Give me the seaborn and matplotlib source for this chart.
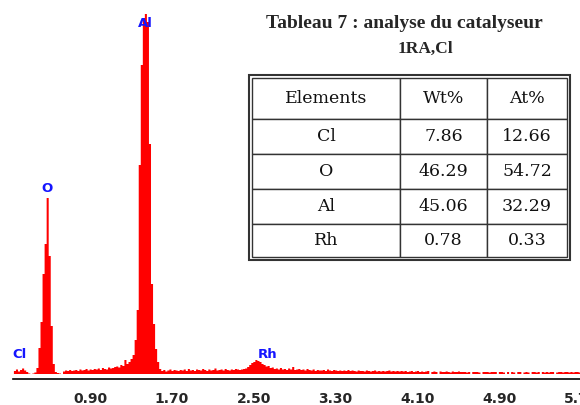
import numpy as np
import pandas as pd
import seaborn as sns
import matplotlib
matplotlib.use("Agg")
import matplotlib.pyplot as plt
from matplotlib.patches import Rectangle
from matplotlib import transforms

sns.set_style("white")
plt.rcParams["font.family"] = ["DejaVu Sans"]

# EDS spectrum: counts per 0.02 keV channel, first channel starting at 0.22 keV
channel_start = 0.22
channel_width = 0.02
counts = [
    30, 45, 25, 40, 55, 35, 20, 5, 0, 5,
    15, 60, 260, 520, 1000, 1300, 1760, 1180, 480, 100,
    20, 10, 5, 0, 25, 35, 30, 40, 30, 35,
    40, 30, 45, 35, 40, 50, 35, 45, 40, 50,
    45, 55, 40, 60, 50, 45, 65, 55, 60, 70,
    75, 65, 90, 80, 140, 100, 120, 150, 190, 340,
    640, 2090, 3090, 3560, 3600, 3520, 2300, 900, 500, 250,
    120, 50, 30, 40, 25, 35, 45, 30, 40, 35,
    30, 40, 35, 45, 30, 50, 35, 40, 30, 45,
    40, 35, 50, 40, 30, 45, 35, 40, 55, 35,
    40, 45, 35, 50, 40, 35, 45, 40, 50, 45,
    40, 45, 50, 55, 70, 90, 110, 120, 140, 130,
    120, 100, 90, 75, 80, 60, 65, 50, 55, 45,
    60, 45, 50, 40, 55, 45, 70, 40, 45, 50,
    40, 45, 35, 50, 40, 35, 45, 30, 40, 35,
    35, 40, 30, 45, 35, 30, 40, 35, 30, 35,
    30, 35, 30, 40, 30, 35, 30, 25, 35, 30,
    30, 25, 35, 30, 25, 30, 35, 25, 30, 25,
    30, 25, 30, 35, 25, 30, 25, 30, 25, 30,
    25, 30, 20, 25, 30, 20, 25, 30, 20, 25,
    20, 25, 30, 0, 20, 25, 20, 0, 25, 20,
    20, 25, 20, 15, 25, 20, 20, 25, 20, 20,
    20, 15, 20, 0, 20, 20, 20, 15, 0, 20,
    20, 20, 15, 20, 20, 20, 0, 20, 20, 15,
    0, 20, 0, 20, 15, 0, 20, 20, 0, 15,
    20, 15, 0, 20, 20, 15, 20, 0, 20, 15,
    20, 15, 20, 20, 0, 15, 20, 20, 15, 20,
    20, 15, 20, 15, 20, 20, 15,
]

# Peak labels (element, energy keV, label height in counts)
peak_names = ["Cl", "O", "Al", "Rh"]
peak_energy = [0.279, 0.55, 1.51, 2.70]
peak_label_y = [195, 1855, 3505, 195]

# Energy axis ticks
tick_values = [0.90, 1.70, 2.50, 3.30, 4.10, 4.90, 5.70]
tick_labels = ["0.90", "1.70", "2.50", "3.30", "4.10", "4.90", "5.70"]

# Composition table
elements = ["Cl", "O", "Al", "Rh"]
wt_pct = ["7.86", "46.29", "45.06", "0.78"]
at_pct = ["12.66", "54.72", "32.29", "0.33"]
table_header = ["Elements", "Wt%", "At%"]

n = len(counts)
centers = channel_start + channel_width * (np.arange(n) + 0.5)
spec = pd.DataFrame({"energy": centers, "counts": counts})

W, H = 580, 405
fig = plt.figure(figsize=(W / 100, H / 100), dpi=100)
ax = fig.add_axes([13 / W, (H - 379) / H, 567 / W, 379 / H])

sns.histplot(data=spec, x="energy", weights="counts",
             binwidth=channel_width,
             binrange=(channel_start, channel_start + channel_width * n),
             element="step", fill=True, color="#ff0000", alpha=1.0,
             linewidth=0, ax=ax)

ax.set_xlim(0.216, 5.758)
ax.set_ylim(-55, 3735)
ax.set_xlabel("")
ax.set_ylabel("")
ax.set_yticks([])
for side in ["top", "left", "right"]:
    ax.spines[side].set_visible(False)
ax.spines["bottom"].set_color("black")
ax.spines["bottom"].set_linewidth(1.2)

ax.set_xticks(tick_values)
ax.set_xticklabels(tick_labels, fontsize=10, fontweight="bold")
ax.tick_params(axis="x", direction="inout", length=7, width=1.2,
               color="black", pad=6)
shift = transforms.ScaledTranslation(7 / 100, 0, fig.dpi_scale_trans)
for lab in ax.get_xticklabels():
    lab.set_transform(lab.get_transform() + shift)

for name, e, y in zip(peak_names, peak_energy, peak_label_y):
    ax.text(e, y, name, color="#1515ff", fontsize=9.5, fontweight="bold",
            ha="center", va="center")

# Title above the table
fig.text(404 / W, 1 - 23 / H, "Tableau 7 : analyse du catalyseur",
         family=["Liberation Serif"], fontweight="bold", fontsize=14,
         ha="center", va="center")
fig.text(425 / W, 1 - 49 / H, "1RA,Cl",
         family=["Liberation Serif"], fontweight="bold", fontsize=12.5,
         ha="center", va="center")

# Table of composition
tx0, tx1, ty0, ty1 = 252, 567, 78, 257
tax = fig.add_axes([tx0 / W, (H - ty1) / H, (tx1 - tx0) / W, (ty1 - ty0) / H])
tax.axis("off")
cell_text = [list(r) for r in zip(elements, wt_pct, at_pct)]
col_w = [148 / 315, 87 / 315, 80 / 315]
tbl = tax.table(cellText=cell_text, colLabels=table_header, cellLoc="center",
                colWidths=col_w, bbox=[0, 0, 1, 1])
tbl.auto_set_font_size(False)
row_h = [41, 35, 35, 35, 33]
for (r, c), cell in tbl.get_celld().items():
    cell.set_height(row_h[r] / 179)
    cell.set_edgecolor("#333333")
    cell.set_linewidth(1.0)
    cell.get_text().set_fontsize(12.5)
    cell.get_text().set_family(["DejaVu Serif"])
    cell.get_text().set_color("#111111")

outer = Rectangle((248.5 / W, (H - 259.5) / H), 321 / W, 185 / H,
                  transform=fig.transFigure, fill=False,
                  edgecolor="#333333", linewidth=1.5)
fig.patches.append(outer)

fig.savefig("out.png", dpi=100)
